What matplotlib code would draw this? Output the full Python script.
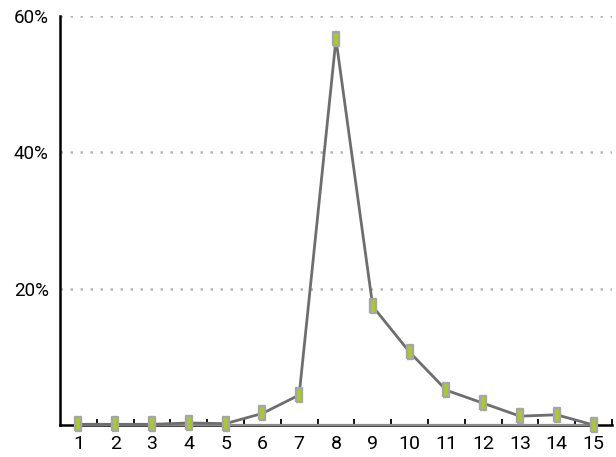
import matplotlib.pyplot as plt
from matplotlib.ticker import FixedLocator

categories = [str(i) for i in range(1, 16)]
share = [0.1, 0.1, 0.1, 0.3, 0.2, 1.7, 4.4, 56.6, 17.4, 10.7, 5.1, 3.2, 1.3, 1.5, 0.0]
baseline = [0] * 15
y_ticks = [20, 40, 60]
y_labels = ['20%', '40%', '60%']

plt.rcParams['font.family'] = ['Roboto', 'DejaVu Sans']

fig = plt.figure(figsize=(6.16, 4.57), dpi=100)
ax = fig.add_axes([0.0974, 0.07, 0.896, 0.895])

x = list(range(len(categories)))

# tall narrow box marker
rect = [(-0.5, -1), (0.5, -1), (0.5, 1), (-0.5, 1), (-0.5, -1)]

ax.plot(x, baseline, color='#8c8c8c', lw=1.6, zorder=3, clip_on=False)
ax.plot(x, share, color='#6e6e6e', lw=2.0, zorder=4, clip_on=False,
        marker=rect, markersize=9.5, markerfacecolor='#a9cc1e',
        markeredgecolor='#a6a6a6', markeredgewidth=1.7)

ax.set_xlim(-0.5, len(categories) - 0.5)
ax.set_ylim(0, 60)

ax.set_xticks(x)
ax.set_xticklabels(categories, fontsize=14)
ax.xaxis.set_minor_locator(FixedLocator([i + 0.5 for i in range(len(categories))]))
ax.tick_params(axis='x', which='major', length=0, pad=7.5)
ax.tick_params(axis='x', which='minor', direction='in', length=4.5, width=1.3, color='black')

ax.set_yticks(y_ticks)
ax.set_yticklabels(y_labels, fontsize=13.5)
ax.tick_params(axis='y', length=0, pad=8)
ax.yaxis.grid(True, color='#b8b8b8', linestyle=(0, (1, 3)), lw=1.8)
ax.set_axisbelow(True)

for s in ['top', 'right']:
    ax.spines[s].set_visible(False)
ax.spines['left'].set_linewidth(1.8)
ax.spines['bottom'].set_linewidth(1.8)

fig.savefig('out.png', dpi=100)
